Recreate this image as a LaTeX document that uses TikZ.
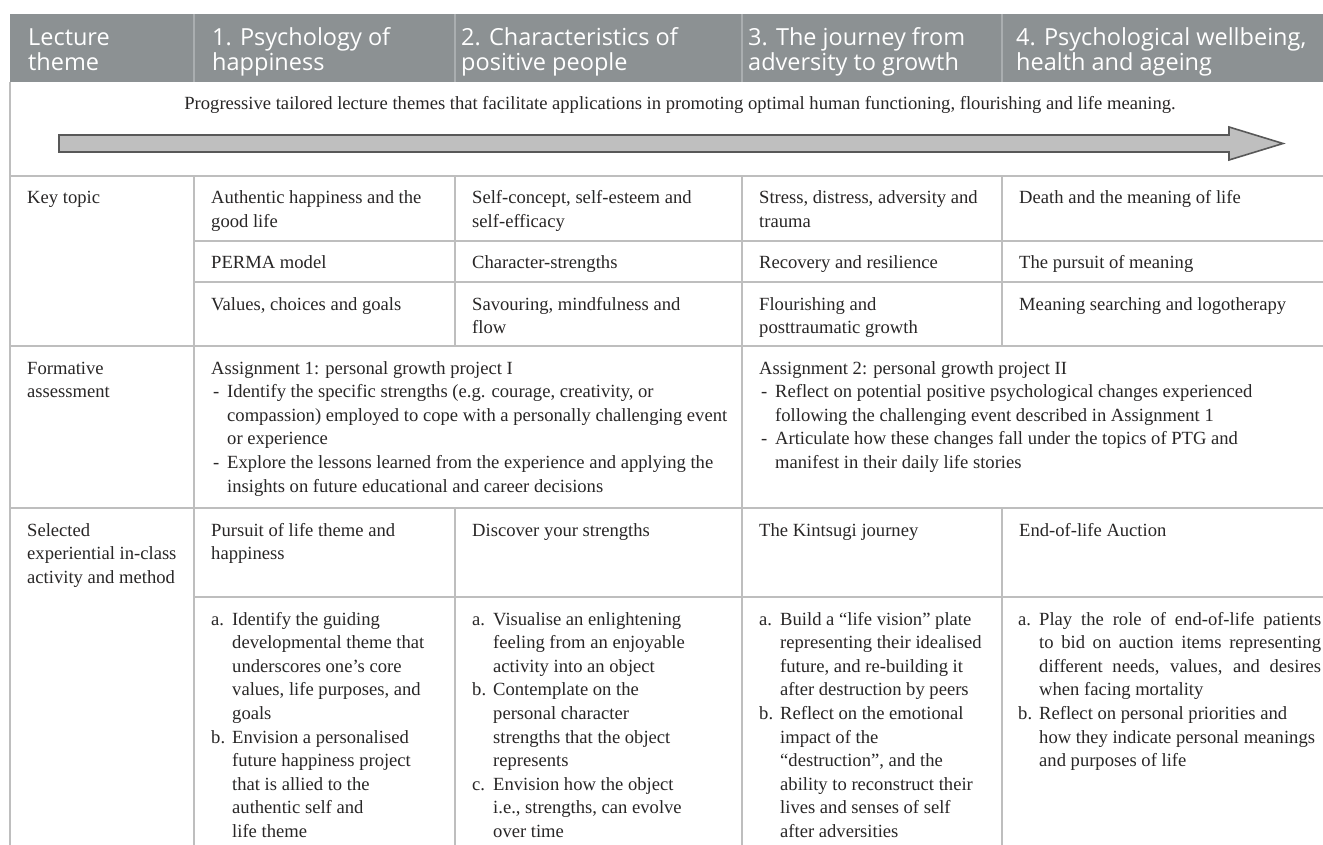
\documentclass[tikz,border=0pt]{standalone}
\usepackage{fontspec}
\setmainfont{Liberation Serif}
\newfontfamily\headfont{Open Sans}
\usetikzlibrary{positioning}
\definecolor{headgray}{RGB}{140,145,147}
\definecolor{headrule}{RGB}{170,174,176}
\definecolor{rulegray}{RGB}{190,190,190}
\definecolor{txt}{RGB}{40,38,38}
\definecolor{arrowfill}{RGB}{191,191,191}
\definecolor{arrowline}{RGB}{88,88,88}
\newcommand{\lines}[1]{\begin{tabular}[t]{@{}l@{}}#1\end{tabular}}
\newcommand{\steps}[1]{\begin{tabular}[t]{@{}p{21pt}@{}l@{}}#1\end{tabular}}
\newcommand{\dashes}[1]{\begin{tabular}[t]{@{}p{16pt}@{}l@{}}#1\end{tabular}}
\newcommand{\full}[1]{\makebox[282pt][s]{#1}}
\begin{document}
\begin{tikzpicture}[x=1pt,y=-1pt,
    cell/.style={anchor=base west,inner sep=0pt,text=txt,font=\fontsize{18.6}{23.6}\selectfont},
    head/.style={anchor=base west,inner sep=0pt,text=white,font=\headfont\fontsize{23.5}{24}\selectfont},
    rule/.style={draw=rulegray,line width=1.5pt}]
  \useasboundingbox (0,0) rectangle (1323,845);
  % header band
  \fill[headgray] (10,14) rectangle (1323,82);
  \draw[headrule,line width=1.2pt] (194,14) -- (194,82);
  \draw[headrule,line width=1.2pt] (455,14) -- (455,82);
  \draw[headrule,line width=1.2pt] (742,14) -- (742,82);
  \draw[headrule,line width=1.2pt] (1002,14) -- (1002,82);
  \node[head] (theme) at (28,45.5) {\lines{Lecture\\theme}};
  \node[head] (happy) at (212,45.5) {\lines{1. Psychology of\\happiness}};
  \node[head] (positive) at (461,45.5) {\lines{2. Characteristics of\\positive people}};
  \node[head] (journey) at (748,45.5) {\lines{3. The journey from\\adversity to growth}};
  \node[head] (wellbeing) at (1016,45.5) {\lines{4. Psychological wellbeing,\\health and ageing}};
  % progression row
  \node[cell,anchor=base] (progress) at (680,109.5) {Progressive tailored lecture themes that facilitate applications in promoting optimal human functioning, flourishing and life meaning.};
  \def\arrowpath{(59,135) -- (1229,135) -- (1229,127) -- (1283,143.5) -- (1229,160) -- (1229,152) -- (59,152) -- cycle}
  \draw[fill=arrowfill,draw=arrowline,line width=1.6pt,line join=miter] \arrowpath;
  % grid
  \draw[rule] (10,82) -- (10,845);
  \draw[rule] (10,176) -- (1323,176);
  \draw[rule] (194,241) -- (1323,241);
  \draw[rule] (194,282) -- (1323,282);
  \draw[rule] (10,346) -- (1323,346);
  \draw[rule] (10,508) -- (1323,508);
  \draw[rule] (194,597) -- (1323,597);
  \draw[rule] (194,176) -- (194,845);
  \draw[rule] (455,176) -- (455,346);
  \draw[rule] (455,508) -- (455,845);
  \draw[rule] (742,176) -- (742,845);
  \draw[rule] (1002,176) -- (1002,346);
  \draw[rule] (1002,508) -- (1002,845);
  % key topics
  \node[cell] (keytopic) at (27,204) {Key topic};
  \node[cell] (topicA1) at (211,204) {\lines{Authentic happiness and the\\good life}};
  \node[cell] (topicA2) at (211,269) {PERMA model};
  \node[cell] (topicA3) at (211,310) {Values, choices and goals};
  \node[cell] (topicB1) at (472,204) {\lines{Self-concept, self-esteem and\\self-efficacy}};
  \node[cell] (topicB2) at (472,269) {Character-strengths};
  \node[cell] (topicB3) at (472,310) {\lines{Savouring, mindfulness and\\flow}};
  \node[cell] (topicC1) at (759,204) {\lines{Stress, distress, adversity and\\trauma}};
  \node[cell] (topicC2) at (759,269) {Recovery and resilience};
  \node[cell] (topicC3) at (759,310) {\lines{Flourishing and\\posttraumatic growth}};
  \node[cell] (topicD1) at (1019,204) {Death and the meaning of life};
  \node[cell] (topicD2) at (1019,269) {The pursuit of meaning};
  \node[cell] (topicD3) at (1019,310) {Meaning searching and logotherapy};
  % formative assessment
  \node[cell] (formative) at (27,374) {\lines{Formative\\assessment}};
  \node[cell] (assignA) at (211,374) {\dashes{\multicolumn{2}{@{}l@{}}{Assignment 1: personal growth project I}\\
    \hspace{2pt}- & Identify the specific strengths (e.g. courage, creativity, or\\
    & compassion) employed to cope with a personally challenging event\\
    & or experience\\
    \hspace{2pt}- & Explore the lessons learned from the experience and applying the\\
    & insights on future educational and career decisions}};
  \node[cell] (assignB) at (759,374) {\dashes{\multicolumn{2}{@{}l@{}}{Assignment 2: personal growth project II}\\
    \hspace{2pt}- & Reflect on potential positive psychological changes experienced\\
    & following the challenging event described in Assignment 1\\
    \hspace{2pt}- & Articulate how these changes fall under the topics of PTG and\\
    & manifest in their daily life stories}};
  % in-class activities
  \node[cell] (selected) at (27,536) {\lines{Selected\\experiential in-class\\activity and method}};
  \node[cell] (actA) at (211,536) {\lines{Pursuit of life theme and\\happiness}};
  \node[cell] (actB) at (472,536) {Discover your strengths};
  \node[cell] (actC) at (759,536) {The Kintsugi journey};
  \node[cell] (actD) at (1019,536) {End-of-life Auction};
  \node[cell] (methodA) at (211,625) {\steps{a. & Identify the guiding\\
    & developmental theme that\\ & underscores one’s core\\ & values, life purposes, and\\ & goals\\
    b. & Envision a personalised\\ & future happiness project\\ & that is allied to the\\ & authentic self and\\ & life theme}};
  \node[cell] (methodB) at (472,625) {\steps{a. & Visualise an enlightening\\
    & feeling from an enjoyable\\ & activity into an object\\
    b. & Contemplate on the\\ & personal character\\ & strengths that the object\\ & represents\\
    c. & Envision how the object\\ & i.e., strengths, can evolve\\ & over time}};
  \node[cell] (methodC) at (759,625) {\steps{a. & Build a “life vision” plate\\
    & representing their idealised\\ & future, and re-building it\\ & after destruction by peers\\
    b. & Reflect on the emotional\\ & impact of the\\ & “destruction”, and the\\ & ability to reconstruct their\\ & lives and senses of self\\ & after adversities}};
  \node[cell] (methodD) at (1018,625) {\steps{a. & \full{Play the role of end-of-life patients}\\
    & \full{to bid on auction items representing}\\ & \full{different needs, values, and desires}\\ & when facing mortality\\
    b. & Reflect on personal priorities and\\ & how they indicate personal meanings\\ & and purposes of life}};
\end{tikzpicture}
\end{document}
